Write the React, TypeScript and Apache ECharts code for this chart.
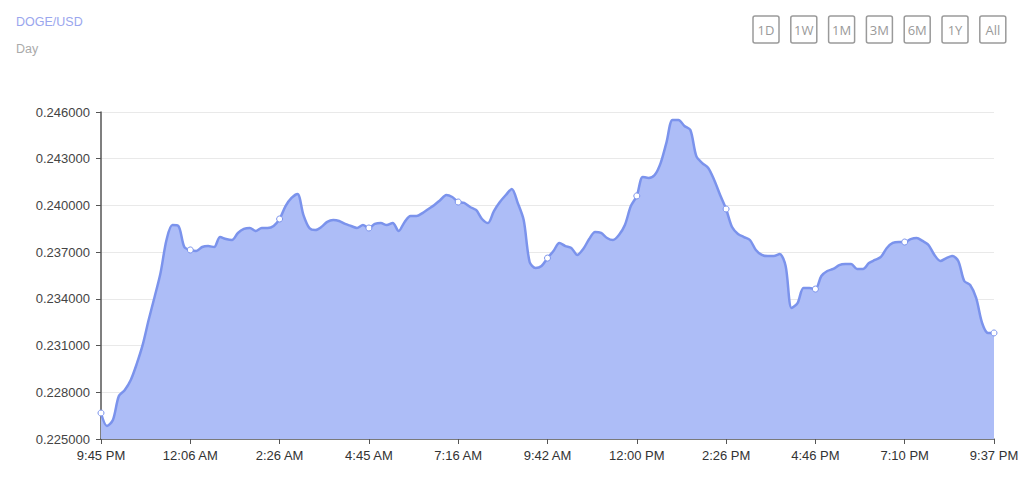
import React, { useEffect, useRef } from "react";
import * as echarts from "echarts";

const tickLabels = ["9:45 PM", "12:06 AM", "2:26 AM", "4:45 AM", "7:16 AM", "9:42 AM", "12:00 PM", "2:26 PM", "4:46 PM", "7:10 PM", "9:37 PM"];
const pointsPerTick = 15;

const prices = [
  0.22667, 0.22584, 0.22622, 0.22776, 0.22815, 0.22879, 0.22982, 0.23104, 0.23264, 0.23412,
  0.23566, 0.23778, 0.23874, 0.23868, 0.23733, 0.23714, 0.23707, 0.23733, 0.23739, 0.23733,
  0.23797, 0.23784, 0.23778, 0.23823, 0.23849, 0.23855, 0.23836, 0.23855, 0.23855, 0.23868,
  0.23913, 0.23996, 0.24048, 0.24073, 0.23939, 0.23855, 0.23842, 0.23861, 0.23894, 0.23906,
  0.23900, 0.23881, 0.23868, 0.23855, 0.23874, 0.23855, 0.23881, 0.23887, 0.23874, 0.23887,
  0.23836, 0.23894, 0.23932, 0.23932, 0.23951, 0.23977, 0.24003, 0.24035, 0.24067, 0.24054,
  0.24022, 0.24016, 0.23990, 0.23971, 0.23913, 0.23887, 0.23964, 0.24022, 0.24067, 0.24106,
  0.24016, 0.23906, 0.23637, 0.23598, 0.23611, 0.23662, 0.23707, 0.23759, 0.23739, 0.23727,
  0.23682, 0.23720, 0.23784, 0.23829, 0.23823, 0.23791, 0.23778, 0.23810, 0.23874, 0.23996,
  0.24061, 0.24183, 0.24176, 0.24195, 0.24272, 0.24407, 0.24549, 0.24549, 0.24510, 0.24484,
  0.24317, 0.24272, 0.24240, 0.24163, 0.24067, 0.23977, 0.23861, 0.23817, 0.23797, 0.23778,
  0.23714, 0.23682, 0.23675, 0.23675, 0.23688, 0.23611, 0.23341, 0.23373, 0.23470, 0.23470,
  0.23463, 0.23547, 0.23579, 0.23592, 0.23617, 0.23624, 0.23624, 0.23592, 0.23592, 0.23630,
  0.23650, 0.23669, 0.23727, 0.23759, 0.23765, 0.23765, 0.23784, 0.23791, 0.23772, 0.23746,
  0.23682, 0.23643, 0.23662, 0.23675, 0.23643, 0.23515, 0.23489, 0.23406, 0.23245, 0.23181,
  0.23181,
];

const rangeButtons = ["1D", "1W", "1M", "3M", "6M", "1Y", "All"];

export default function App() {
  const ref = useRef<HTMLDivElement>(null);

  useEffect(() => {
    if (!ref.current) return;
    const chart = echarts.init(ref.current, null, { renderer: "svg" });
    const seriesData = prices.map((v, i) => [i, v]);
    const maxIndex = prices.length - 1;

    const graphics: any[] = [
      {
        type: "text",
        left: 16,
        top: 15,
        style: { text: "DOGE/USD", fill: "#9aa6ee", font: "12.5px 'Liberation Sans', Arial, sans-serif" },
      },
      {
        type: "text",
        left: 16,
        top: 42,
        style: { text: "Day", fill: "#aaaaaa", font: "12.5px 'Liberation Sans', Arial, sans-serif" },
      },
    ];
    rangeButtons.forEach((label, i) => {
      const x = 753 + i * 37.8;
      graphics.push({
        type: "group",
        x,
        y: 16,
        children: [
          {
            type: "rect",
            shape: { x: 0, y: 0, width: 26, height: 27, r: 2 },
            style: { fill: "#fff", stroke: "#9a9a9a", lineWidth: 1.5 },
          },
          {
            type: "text",
            x: 13,
            y: 14,
            style: {
              text: label,
              fill: "#9a9a9a",
              font: "13px 'Open Sans', sans-serif",
              align: "center",
              verticalAlign: "middle",
            },
          },
        ],
      });
    });

    chart.setOption({
      animation: false,
      backgroundColor: "#ffffff",
      graphic: graphics,
      grid: { left: 101, right: 30, top: 112, bottom: 41, containLabel: false },
      xAxis: {
        type: "value",
        min: 0,
        max: maxIndex,
        interval: pointsPerTick,
        axisLine: { show: true, lineStyle: { color: "#555", width: 1.5 } },
        axisTick: { show: true, length: 5, lineStyle: { color: "#555" } },
        splitLine: { show: false },
        axisLabel: {
          color: "#333",
          fontSize: 13,
          fontFamily: "'Liberation Sans', Arial, sans-serif",
          margin: 10,
          showMinLabel: true,
          showMaxLabel: true,
          formatter: (v: number) => tickLabels[Math.round(v / pointsPerTick)] ?? "",
        },
      },
      yAxis: {
        type: "value",
        min: 0.225,
        max: 0.246,
        interval: 0.003,
        axisLine: { show: true, lineStyle: { color: "#555", width: 1.5 } },
        axisTick: { show: true, length: 5, lineStyle: { color: "#555" } },
        splitLine: { show: true, lineStyle: { color: "#e9e9e9", width: 1 } },
        axisLabel: {
          color: "#444",
          fontSize: 13,
          fontFamily: "'Liberation Sans', Arial, sans-serif",
          margin: 11,
          formatter: (v: number) => v.toFixed(6),
        },
      },
      series: [
        {
          type: "line",
          data: seriesData,
          smooth: 0.3,
          showSymbol: true,
          showAllSymbol: true,
          symbol: (_v: any, params: any) => (params.dataIndex % pointsPerTick === 0 ? "circle" : "none"),
          symbolSize: 6,
          itemStyle: { color: "#ffffff", borderColor: "#7b93ec", borderWidth: 1 },
          lineStyle: { color: "#7b93ec", width: 2.5 },
          areaStyle: { color: "#adbdf7", opacity: 1 },
          z: 2,
        },
      ],
    });
    return () => chart.dispose();
  }, []);

  return <div ref={ref} style={{ width: 1024, height: 480, position: "absolute", left: 0, top: 0 }} />;
}
